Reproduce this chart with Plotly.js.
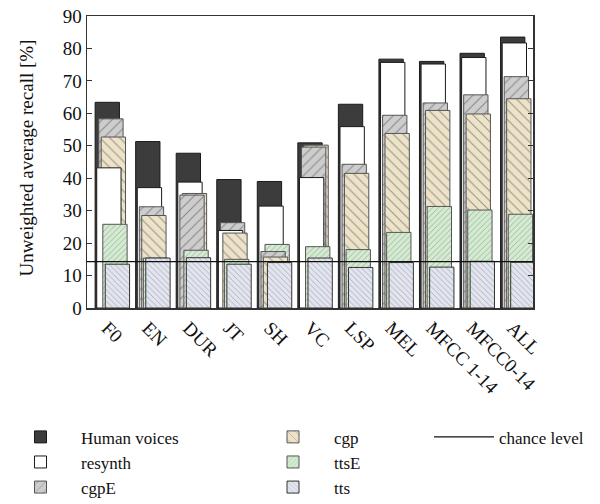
<!DOCTYPE html>
<html>
<head>
<meta charset="utf-8">
<script src="https://cdn.plot.ly/plotly-3.0.1.min.js"></script>
<style>html,body{margin:0;padding:0;background:#fff}#chart{width:600px;height:504px}</style>
</head>
<body>
<div id="chart"></div>
<script>
// ---- data ----
const categories = ["F0","EN","DUR","JT","SH","VC","LSP","MEL","MFCC 1-14","MFCC0-14","ALL"];
const humanVoices = [63.4, 51.3, 47.7, 39.6, 39.0, 50.9, 62.8, 76.7, 76.0, 78.5, 83.5];
const resynth     = [43.2, 37.1, 38.8, 23.9, 31.4, 40.2, 55.9, 75.7, 75.2, 77.2, 81.7];
const cgpE        = [58.3, 31.2, 34.8, 26.3, 17.4, 49.6, 44.3, 59.4, 63.2, 65.7, 71.3];
const cgp         = [52.7, 28.5, 35.3, 23.1, 15.7, 50.2, 41.5, 53.8, 60.9, 59.8, 64.5];
const ttsE        = [25.8, 15.4, 17.8, 15.0, 19.6, 18.9, 18.0, 23.3, 31.3, 30.2, 28.9];
const tts         = [13.5, 15.4, 15.5, 13.5, 14.0, 15.4, 12.5, 14.0, 12.6, 14.4, 14.1];
const chanceLevel = 100 / 7;
const seriesNames = ["Human voices","resynth","cgpE","cgp","ttsE","tts"];
const seriesValues = [humanVoices, resynth, cgpE, cgp, ttsE, tts];
const yTitle = "Unweighted average recall [%]";

// ---- styles ----
const styles = [
  {bg:"#3c3c3c", fg:"#3c3c3c", shape:"",  size:8, line:"#1a1a1a", offset:-0.30},
  {bg:"#ffffff", fg:"#ffffff", shape:"",  size:8, line:"#1a1a1a", offset:-0.26},
  {bg:"#cdcdcd", fg:"#6e6e6e", shape:"/", size:7, line:"#555555", offset:-0.21},
  {bg:"#ede3c8", fg:"#8d8270", shape:"\\",size:7, line:"#555555", offset:-0.15},
  {bg:"#d3ebd0", fg:"#6f9c6f", shape:"/", size:4, line:"#555555", offset:-0.11},
  {bg:"#e2e5ef", fg:"#7d8196", shape:"\\",size:4, line:"#333333", offset:-0.05}
];
const BAR_W = 0.6;

const traces = [];
// per category, taller bars are drawn first so shorter ones lie on top
const nS = seriesValues.length;
const order = categories.map((c, i) => {
  const idx = seriesValues.map((v, s) => s);
  idx.sort((a, b) => (seriesValues[b][i] - seriesValues[a][i]) || (a - b));
  return idx;
});
for (let k = 0; k < nS; k++) {
  const sIdx = categories.map((c, i) => order[i][k]);
  traces.push({
    type: "bar",
    x: categories,
    y: categories.map((c, i) => seriesValues[sIdx[i]][i]),
    width: BAR_W,
    offset: sIdx.map(s => styles[s].offset),
    marker: {
      color: sIdx.map(s => styles[s].bg),
      line: {color: sIdx.map(s => styles[s].line), width: 1},
      pattern: {
        shape: sIdx.map(s => styles[s].shape),
        fgcolor: sIdx.map(s => styles[s].fg),
        size: sIdx.map(s => styles[s].size),
        solidity: 0.15,
        fillmode: "overlay"
      }
    },
    showlegend: false,
    hoverinfo: "skip"
  });
}
// legend entries
const legendOf = ["legend","legend","legend","legend2","legend2","legend2"];
seriesNames.forEach((n, s) => {
  const st = styles[s];
  traces.push({
    type: "bar", name: n, x: [categories[0]], y: [null],
    legend: legendOf[s],
    marker: {color: st.bg, line: {color: st.line, width: 1},
      pattern: {shape: st.shape, fgcolor: st.fg, size: st.size, solidity: 0.15, fillmode: "overlay"}},
    hoverinfo: "skip"
  });
});

const font = {family: "Liberation Serif, Times New Roman, serif", size: 19, color: "#111"};
const legendFont = {family: "Liberation Serif, Times New Roman, serif", size: 17, color: "#111"};
const legendBase = {yref: "container", xref: "container", y: 0.168, yanchor: "top",
  xanchor: "left", bgcolor: "rgba(0,0,0,0)", font: legendFont,
  tracegroupgap: 0, orientation: "v"};

const layout = {
  width: 600, height: 504,
  margin: {l: 87, r: 67, t: 16, b: 196, autoexpand: false},
  paper_bgcolor: "#fff", plot_bgcolor: "#fff",
  font: font,
  barmode: "overlay",
  xaxis: {
    type: "category", range: [-0.5, categories.length - 0.5],
    showline: true, mirror: true, linecolor: "#333", linewidth: 1.5,
    ticks: "", tickangle: 45, tickfont: font, showgrid: false, zeroline: false
  },
  yaxis: {
    range: [0, 90], dtick: 10, ticks: "inside", ticklen: 5, tickcolor: "#333",
    showline: true, mirror: "ticks", linecolor: "#333", linewidth: 1.5,
    showgrid: false, zeroline: false, tickfont: font
  },
  annotations: [{
    text: yTitle, xref: "paper", yref: "paper", x: -0.135, y: 0.515,
    xanchor: "center", yanchor: "middle", textangle: -90, showarrow: false,
    font: font
  }],
  shapes: [{
    type: "line", xref: "x domain", x0: 0, x1: 1, yref: "y",
    y0: chanceLevel, y1: chanceLevel, layer: "above",
    line: {color: "#111111", width: 1.2},
    showlegend: true, name: "chance level", legend: "legend3"
  }],
  legend: Object.assign({}, legendBase, {x: 0.0, itemwidth: 71}),
  legend2: Object.assign({}, legendBase, {x: 0.42, itemwidth: 72}),
  legend3: Object.assign({}, legendBase, {x: 0.715, itemwidth: 60}),
  showlegend: true
};
Plotly.newPlot("chart", traces, layout, {displayModeBar: false, staticPlot: true});
</script>
</body>
</html>
